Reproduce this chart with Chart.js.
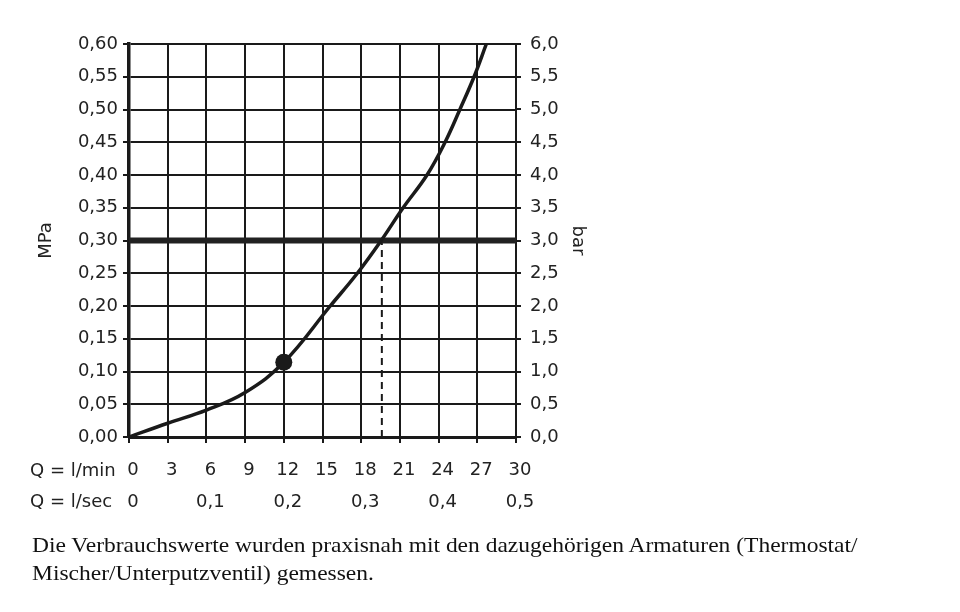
<!DOCTYPE html>
<html>
<head>
<meta charset="utf-8">
<script src="https://cdn.jsdelivr.net/npm/chart.js@4"></script>
<style>
  body { margin: 0; background: #fff; }
  #wrap { position: relative; width: 960px; height: 612px; overflow: hidden; }
  #chart { position: absolute; left: 0; top: 0; }
  .qlab { position: absolute; left: 30px; font: 18px "DejaVu Sans"; line-height: 20px; color: #222; white-space: nowrap; }
  .note { position: absolute; left: 32px; top: 531px; font: 22px "Liberation Serif"; line-height: 28px; color: #111;
          white-space: nowrap; transform: scaleX(1.068); transform-origin: 0 0; }
</style>
</head>
<body>
<div id="wrap">
  <canvas id="chart" width="960" height="612"></canvas>
  <div class="qlab" style="top:460px">Q = l/min</div>
  <div class="qlab" style="top:491px">Q = l/sec</div>
  <div class="note">Die Verbrauchswerte wurden praxisnah mit den dazugehörigen Armaturen (Thermostat/<br>Mischer/Unterputzventil) gemessen.</div>
</div>
<script>
// flow-pressure curve
const flowLpm = [0, 3, 6, 9, 12, 15.6, 17.7, 19.55, 21.25, 23.1, 24.5, 25.65, 26.75, 27.7];
const pressureMPa = [0, 0.021, 0.041, 0.068, 0.114, 0.20, 0.25, 0.30, 0.35, 0.40, 0.45, 0.50, 0.55, 0.60];

// marked operating point
const markerFlow = [12];
const markerPressure = [0.114];

// 3 bar line and the flow at which the curve meets it
const limitPressure = 0.30;
const limitFlow = 19.6;

// axis ranges
const flowRange = [0, 30];
const flowSecRange = [0, 0.5];
const mpaRange = [0, 0.6];
const barRange = [0, 6];

const ink = "#1a1a1a";
const tickFont = { family: "DejaVu Sans", size: 18 };

const toPoints = (xs, ys) => xs.map((x, i) => ({ x: x, y: ys[i] }));
const comma = (v, d) => v.toFixed(d).replace(".", ",");

const ctx = document.getElementById("chart").getContext("2d");
const chart = new Chart(ctx, {
  type: "scatter",
  data: {
    datasets: [
      {
        data: toPoints(markerFlow, markerPressure),
        pointRadius: 8.5,
        pointBackgroundColor: ink,
        pointBorderWidth: 0,
        showLine: false,
      },
      {
        data: toPoints(flowLpm, pressureMPa),
        showLine: true,
        borderColor: ink,
        borderWidth: 3.5,
        pointRadius: 0,
        tension: 0.4,
      },
      {
        data: toPoints(flowRange, [limitPressure, limitPressure]),
        showLine: true,
        borderColor: "#222",
        borderWidth: 6,
        pointRadius: 0,
      },
      {
        data: toPoints([limitFlow, limitFlow], [0, limitPressure]),
        showLine: true,
        borderColor: ink,
        borderWidth: 2,
        borderDash: [7, 5],
        pointRadius: 0,
      },
    ],
  },
  options: {
    responsive: false,
    animation: false,
    layout: { padding: { left: 0, right: 364, top: 44, bottom: 100 } },
    plugins: {
      legend: { display: false },
      tooltip: { enabled: false },
    },
    scales: {
      x: {
        type: "linear",
        position: "bottom",
        min: flowRange[0],
        max: flowRange[1],
        afterFit: (s) => { s.height = 45; },
        grid: { color: ink, lineWidth: 2, tickLength: 6 },
        border: { color: ink, width: 3 },
        ticks: { stepSize: 3, color: "#222", font: tickFont, padding: 17, labelOffset: 4 },
      },
      x2: {
        type: "linear",
        position: "bottom",
        min: flowSecRange[0],
        max: flowSecRange[1],
        afterFit: (s) => { s.height = 30; },
        grid: { display: false, drawTicks: false },
        border: { display: false },
        ticks: {
          stepSize: 0.1,
          color: "#222",
          font: tickFont,
          padding: 10,
          labelOffset: 4,
          callback: (v) => (v === 0 ? "0" : comma(v, 1)),
        },
      },
      y: {
        type: "linear",
        position: "left",
        min: mpaRange[0],
        max: mpaRange[1],
        afterFit: (s) => { s.width = 129; },
        grid: { color: ink, lineWidth: 2, tickLength: 6 },
        border: { color: ink, width: 3.5 },
        ticks: { stepSize: 0.05, color: "#222", font: tickFont, padding: 5, callback: (v) => comma(v, 2) },
        title: {
          display: true,
          text: "MPa",
          color: "#222",
          font: { family: "DejaVu Sans", size: 18, lineHeight: 1 },
          padding: { top: 37, bottom: 0 },
        },
      },
      y2: {
        type: "linear",
        position: "right",
        min: barRange[0],
        max: barRange[1],
        afterFit: (s) => { s.width = 80; },
        grid: { drawOnChartArea: false, color: ink, lineWidth: 2, tickLength: 5 },
        border: { color: ink, width: 2 },
        ticks: { stepSize: 0.5, color: "#222", font: tickFont, padding: 9, callback: (v) => comma(v, 1) },
        title: {
          display: true,
          text: "bar",
          color: "#222",
          font: { family: "DejaVu Sans", size: 18, lineHeight: 1 },
          padding: { top: 9.5, bottom: 0 },
        },
      },
    },
  },
});
</script>
</body>
</html>
